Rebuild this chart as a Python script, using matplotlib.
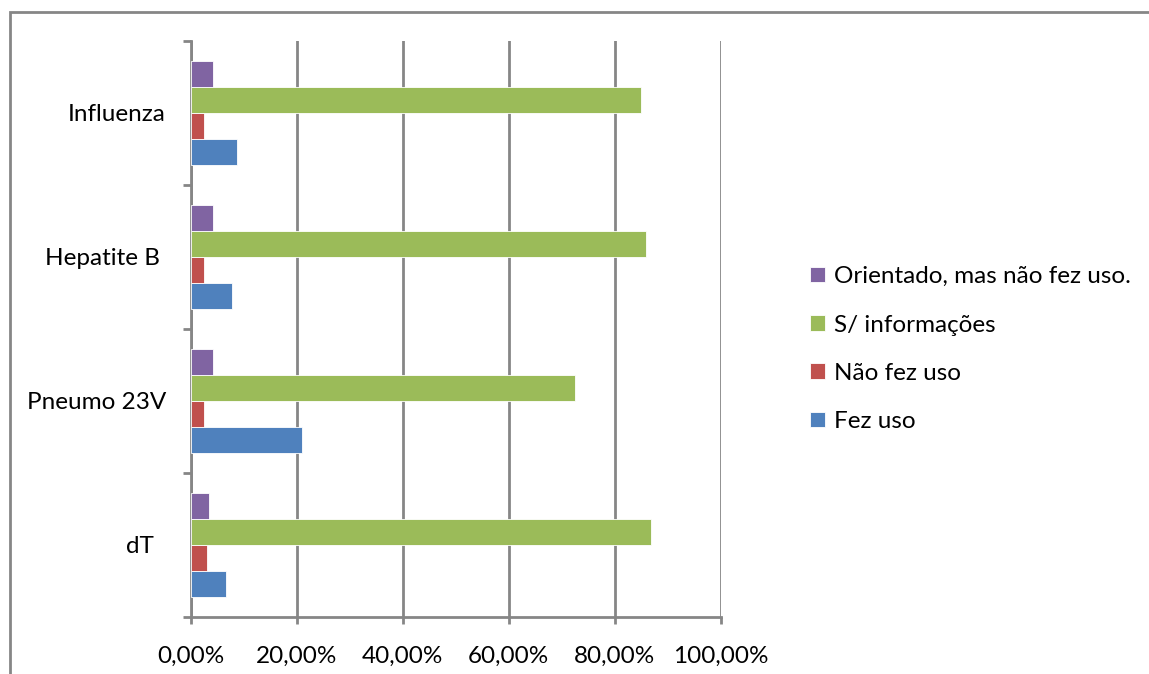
import matplotlib.pyplot as plt
from matplotlib.patches import Rectangle
import numpy as np

plt.rcParams['font.family'] = ['Lato', 'DejaVu Sans']

# vaccine categories, bottom to top
categories = ['dT  ', 'Pneumo 23V', 'Hepatite B ', 'Influenza']

# share of each answer per vaccine (%)
fez_uso = [6.6, 20.9, 7.7, 8.7]
nao_fez_uso = [3.1, 2.5, 2.5, 2.5]
sem_info = [86.8, 72.6, 85.9, 84.9]
orientado = [3.5, 4.1, 4.1, 4.1]

series = [
    ('Fez uso', fez_uso, '#4F81BD'),
    ('Não fez uso', nao_fez_uso, '#C0504D'),
    ('S/ informações', sem_info, '#9BBB59'),
    ('Orientado, mas não fez uso.', orientado, '#8064A2'),
]

x_ticks = [0, 20, 40, 60, 80, 100]
x_labels = ['0,00%', '20,00%', '40,00%', '60,00%', '80,00%', '100,00%']

grey = '#868686'

fig = plt.figure(figsize=(11.49, 6.74), dpi=100)
ax = fig.add_axes([0.1662, 0.0846, 0.4609, 0.8546])

y = np.arange(len(categories))
h = 0.18
bars = []
for i, (name, vals, col) in enumerate(series):
    b = ax.barh(y + (i - 1.5) * h, vals, height=h, color=col,
                edgecolor='white', linewidth=0.6, label=name, zorder=3)
    bars.append(b)

ax.set_xlim(0, 100)
ax.set_ylim(-0.5, len(categories) - 0.5)
ax.set_xticks(x_ticks)
ax.set_xticklabels(x_labels)
ax.set_yticks(y)
ax.set_yticklabels(categories)
ax.set_yticks(np.arange(-0.5, len(categories)), minor=True)

ax.grid(axis='x', color=grey, linewidth=2, zorder=0)
for s in ['top', 'right']:
    ax.spines[s].set_visible(False)
for s in ['left', 'bottom']:
    ax.spines[s].set_color(grey)
    ax.spines[s].set_linewidth(2)

ax.tick_params(axis='y', which='major', length=0, pad=18, labelsize=17.5)
ax.tick_params(axis='y', which='minor', length=6, width=2, color=grey)
ax.tick_params(axis='x', length=5, width=2, color=grey, pad=16, labelsize=17.5)

# legend, top entry first
handles = [b for b in bars[::-1]]
labels = [s[0] for s in series[::-1]]
fig.legend(handles, labels, loc='center left',
           bbox_to_anchor=(0.686, 0.482), frameon=False, fontsize=17.5,
           handlelength=0.6, handleheight=0.6, handletextpad=0.4,
           labelspacing=1.12)

# outer chart frame
fig.add_artist(Rectangle((10 / 1149, -0.1), 1.2, 1.1 - 12 / 674,
                         transform=fig.transFigure, fill=False,
                         edgecolor=grey, linewidth=2, clip_on=False))

fig.savefig('out.png', dpi=100)
